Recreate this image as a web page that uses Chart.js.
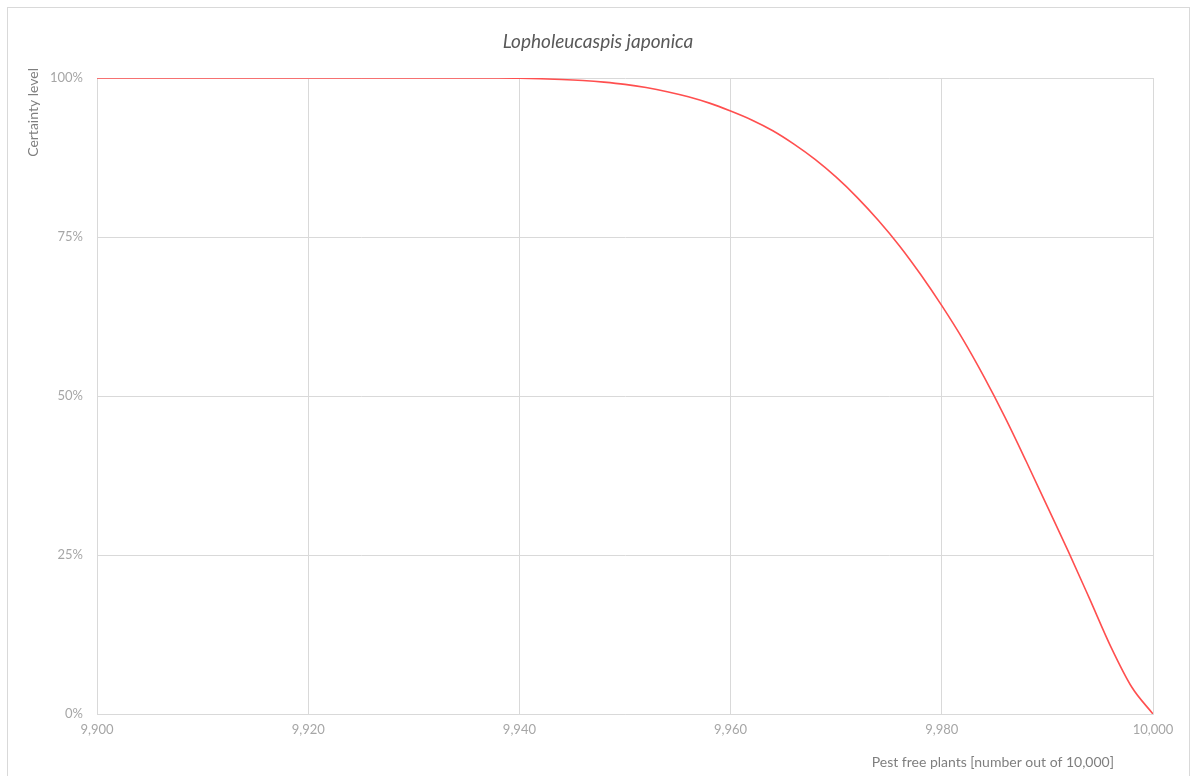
<!DOCTYPE html>
<html>
<head>
<meta charset="utf-8">
<title>Lopholeucaspis japonica</title>
<script src="https://cdn.jsdelivr.net/npm/chart.js@4/dist/chart.umd.min.js"></script>
<style>
  html, body { margin: 0; padding: 0; background: #fff; overflow: hidden; }
  #wrap { position: relative; width: 1198px; height: 776px; }
  #frame { position: absolute; left: 7px; top: 7px; width: 1183px; height: 790px; border: 1px solid #d9d9d9; box-sizing: border-box; }
  canvas { position: absolute; left: 0; top: 0; }
</style>
</head>
<body>
<div id="wrap">
  <div id="frame"></div>
  <canvas id="curve" width="1198" height="776"></canvas>
</div>
<script>
// pest free plants (out of 10,000)
const pestFree = [9900, 9920, 9938, 9940, 9942, 9944, 9946, 9948, 9950, 9952, 9954, 9956, 9958,
  9960, 9962, 9964, 9966, 9968, 9970, 9972, 9974, 9976, 9978, 9980, 9982, 9984, 9986, 9988,
  9990, 9992, 9994, 9996, 9998, 10000];
// certainty level (%)
const certainty = [100, 100, 100, 99.95, 99.88, 99.77, 99.6, 99.35, 99.0, 98.5, 97.85, 97.05, 96.05,
  94.8, 93.4, 91.7, 89.6, 87.2, 84.4, 81.2, 77.6, 73.6, 69.1, 64.2, 58.9, 53.0, 46.6, 39.7,
  32.6, 25.5, 18.1, 10.6, 4.2, 0];
const xTicks = [9900, 9920, 9940, 9960, 9980, 10000];
const yTicks = [0, 25, 50, 75, 100];

const chartTitle = 'Lopholeucaspis japonica';
const xTitle = 'Pest free plants [number out of 10,000]';
const yTitle = 'Certainty level';

const FONT = "Lato, 'Open Sans', sans-serif";
const GRID = '#d9d9d9';

// 見出しと軸タイトルを描く
const titlesPlugin = {
  id: 'titles',
  afterDraw(chart) {
    const ctx = chart.ctx;
    ctx.save();
    ctx.fillStyle = '#595959';
    ctx.font = `italic 19px ${FONT}`;
    ctx.textAlign = 'center';
    ctx.textBaseline = 'middle';
    ctx.fillText(chartTitle, 598, 42);

    ctx.fillStyle = '#7f7f7f';
    ctx.font = `14px ${FONT}`;
    ctx.textAlign = 'right';
    ctx.fillText(xTitle, 1114, 762);

    ctx.translate(33, 68);
    ctx.rotate(-Math.PI / 2);
    ctx.textAlign = 'right';
    ctx.fillText(yTitle, 0, 0);
    ctx.restore();
  }
};

const data = pestFree.map((x, i) => ({ x: x, y: certainty[i] }));

new Chart(document.getElementById('curve'), {
  type: 'line',
  data: {
    datasets: [{
      data: data,
      borderColor: '#ff4f4f',
      borderWidth: 1.6,
      pointRadius: 0,
      fill: false,
      cubicInterpolationMode: 'monotone'
    }]
  },
  options: {
    responsive: false,
    animation: false,
    layout: { padding: { top: 78, right: 45, left: 0, bottom: 0 } },
    plugins: { legend: { display: false }, title: { display: false }, tooltip: { enabled: false } },
    scales: {
      x: {
        type: 'linear',
        min: 9900,
        max: 10000,
        afterBuildTicks: (s) => { s.ticks = xTicks.map(v => ({ value: v })); },
        afterFit: (s) => { s.height = 62; },
        ticks: {
          color: '#a6a6a6',
          font: { family: FONT, size: 13 },
          padding: 8,
          maxRotation: 0,
          callback: (v) => v.toLocaleString('en-US')
        },
        grid: { color: GRID, lineWidth: 1, drawTicks: false },
        border: { color: GRID }
      },
      y: {
        min: 0,
        max: 100,
        afterBuildTicks: (s) => { s.ticks = yTicks.map(v => ({ value: v })); },
        afterFit: (s) => { s.width = 97; },
        ticks: {
          color: '#a6a6a6',
          font: { family: FONT, size: 13 },
          padding: 14,
          callback: (v) => v + '%'
        },
        grid: { color: GRID, lineWidth: 1, drawTicks: false },
        border: { color: GRID }
      }
    }
  },
  plugins: [titlesPlugin]
});
</script>
</body>
</html>
